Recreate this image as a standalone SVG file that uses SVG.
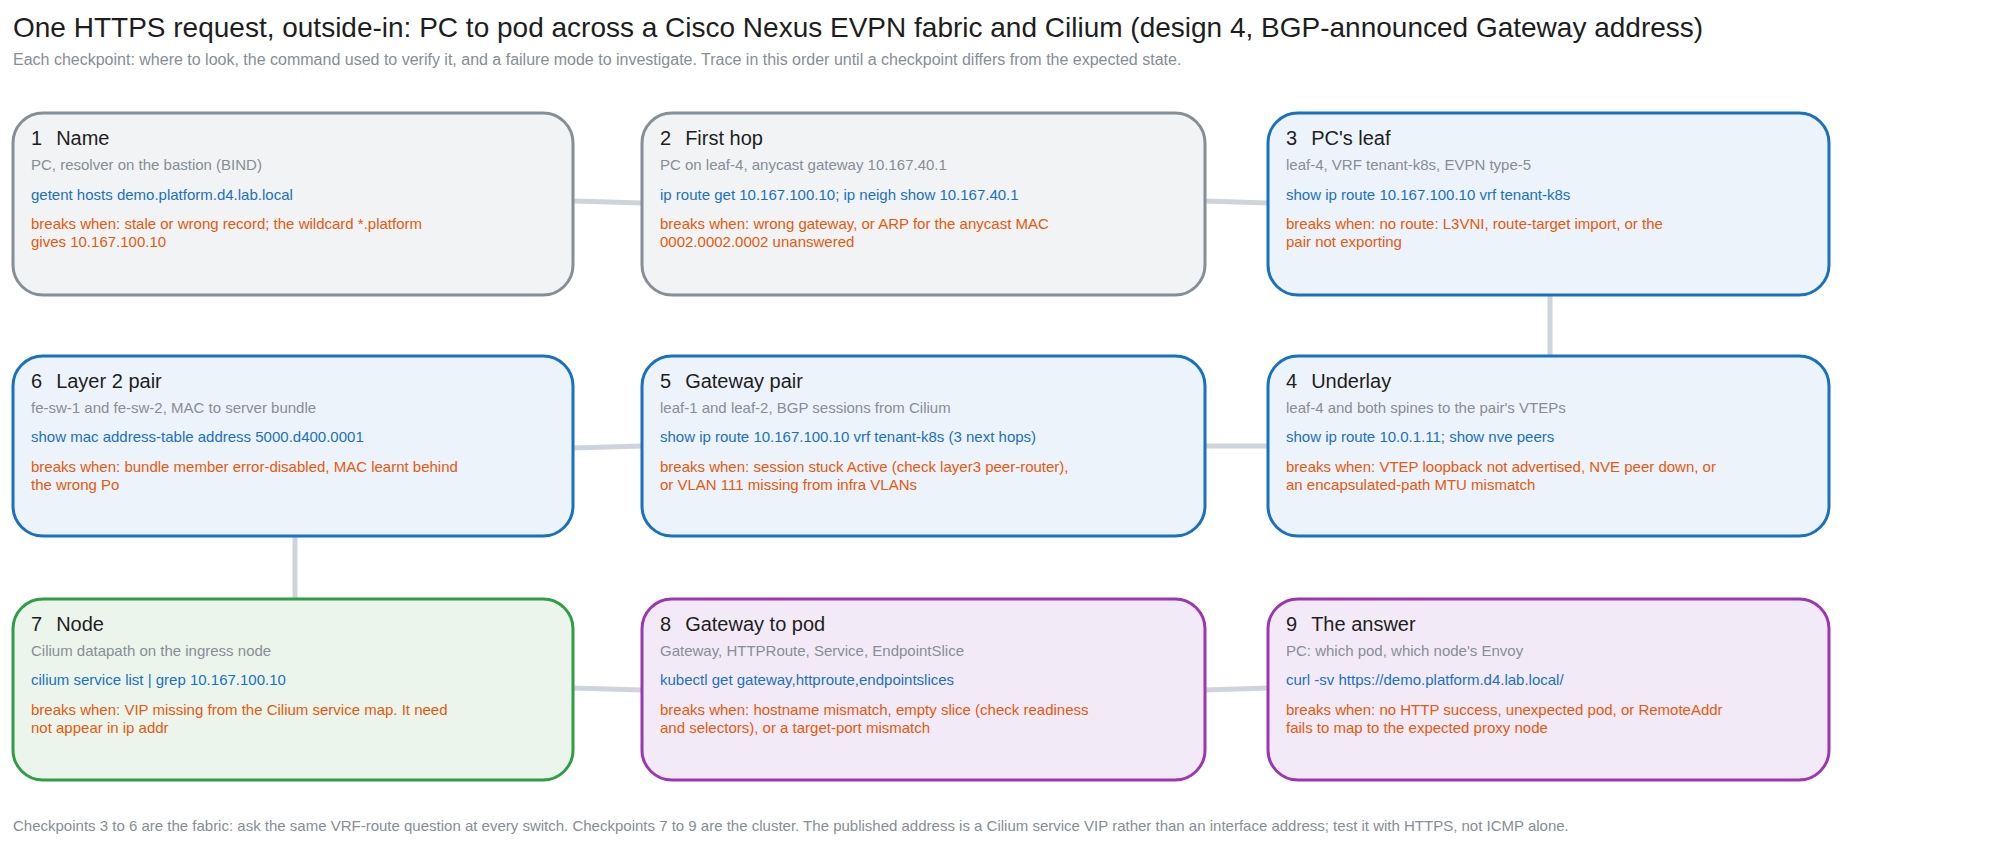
<svg xmlns="http://www.w3.org/2000/svg" width="2000" height="844" viewBox="0 0 2000 844">
<style>
text{font-family:"Liberation Sans",Arial,sans-serif}
.t{font-size:28px;fill:#1e1e1e}
.s{font-size:16px;fill:#868e96}
.h{font-size:20px;fill:#1e1e1e}
.d{font-size:15px;fill:#868e96}
.c{font-size:15px;fill:#1971c2}
.b{font-size:15px;fill:#e8590c}
.gray{fill:#f1f3f5;stroke:#868e96;stroke-width:3}
.blue{fill:#edf3fb;stroke:#1971c2;stroke-width:3}
.green{fill:#ebf5ec;stroke:#2f9e44;stroke-width:3}
.purple{fill:#f3eaf7;stroke:#9c36b5;stroke-width:3}
.con line{stroke:#ced4da;stroke-width:5}
</style>
<rect width="2000" height="844" fill="#fff"/>
<text class="t" x="13" y="37">One HTTPS request, outside-in: PC to pod across a Cisco Nexus EVPN fabric and Cilium (design 4, BGP-announced Gateway address)</text>
<text class="s" x="13" y="65">Each checkpoint: where to look, the command used to verify it, and a failure mode to investigate. Trace in this order until a checkpoint differs from the expected state.</text>
<g class="con">
<line x1="573" y1="201" x2="642" y2="203"/>
<line x1="1205" y1="201" x2="1268" y2="203"/>
<line x1="1550" y1="295" x2="1550" y2="356"/>
<line x1="1205" y1="446" x2="1268" y2="446"/>
<line x1="573" y1="448" x2="642" y2="446"/>
<line x1="295" y1="536" x2="295" y2="599"/>
<line x1="573" y1="688" x2="642" y2="690"/>
<line x1="1205" y1="690" x2="1268" y2="688"/>
</g>
<g id="n1"><rect class="gray" x="13" y="113" width="560" height="182" rx="30"/>
<text class="h" x="31" y="145">1<tspan dx="14">Name</tspan></text>
<text class="d" x="31" y="170">PC, resolver on the bastion (BIND)</text>
<text class="c" x="31" y="200">getent hosts demo.platform.d4.lab.local</text>
<text class="b" x="31" y="229">breaks when: stale or wrong record; the wildcard *.platform</text>
<text class="b" x="31" y="247">gives 10.167.100.10</text></g>
<g id="n2"><rect class="gray" x="642" y="113" width="563" height="182" rx="30"/>
<text class="h" x="660" y="145">2<tspan dx="14">First hop</tspan></text>
<text class="d" x="660" y="170">PC on leaf-4, anycast gateway 10.167.40.1</text>
<text class="c" x="660" y="200">ip route get 10.167.100.10; ip neigh show 10.167.40.1</text>
<text class="b" x="660" y="229">breaks when: wrong gateway, or ARP for the anycast MAC</text>
<text class="b" x="660" y="247">0002.0002.0002 unanswered</text></g>
<g id="n3"><rect class="blue" x="1268" y="113" width="561" height="182" rx="30"/>
<text class="h" x="1286" y="145">3<tspan dx="14">PC's leaf</tspan></text>
<text class="d" x="1286" y="170">leaf-4, VRF tenant-k8s, EVPN type-5</text>
<text class="c" x="1286" y="200">show ip route 10.167.100.10 vrf tenant-k8s</text>
<text class="b" x="1286" y="229">breaks when: no route: L3VNI, route-target import, or the</text>
<text class="b" x="1286" y="247">pair not exporting</text></g>
<g id="n6"><rect class="blue" x="13" y="356" width="560" height="180" rx="30"/>
<text class="h" x="31" y="388">6<tspan dx="14">Layer 2 pair</tspan></text>
<text class="d" x="31" y="413">fe-sw-1 and fe-sw-2, MAC to server bundle</text>
<text class="c" x="31" y="442">show mac address-table address 5000.d400.0001</text>
<text class="b" x="31" y="472">breaks when: bundle member error-disabled, MAC learnt behind</text>
<text class="b" x="31" y="490">the wrong Po</text></g>
<g id="n5"><rect class="blue" x="642" y="356" width="563" height="180" rx="30"/>
<text class="h" x="660" y="388">5<tspan dx="14">Gateway pair</tspan></text>
<text class="d" x="660" y="413">leaf-1 and leaf-2, BGP sessions from Cilium</text>
<text class="c" x="660" y="442">show ip route 10.167.100.10 vrf tenant-k8s (3 next hops)</text>
<text class="b" x="660" y="472">breaks when: session stuck Active (check layer3 peer-router),</text>
<text class="b" x="660" y="490">or VLAN 111 missing from infra VLANs</text></g>
<g id="n4"><rect class="blue" x="1268" y="356" width="561" height="180" rx="30"/>
<text class="h" x="1286" y="388">4<tspan dx="14">Underlay</tspan></text>
<text class="d" x="1286" y="413">leaf-4 and both spines to the pair's VTEPs</text>
<text class="c" x="1286" y="442">show ip route 10.0.1.11; show nve peers</text>
<text class="b" x="1286" y="472">breaks when: VTEP loopback not advertised, NVE peer down, or</text>
<text class="b" x="1286" y="490">an encapsulated-path MTU mismatch</text></g>
<g id="n7"><rect class="green" x="13" y="599" width="560" height="181" rx="30"/>
<text class="h" x="31" y="631">7<tspan dx="14">Node</tspan></text>
<text class="d" x="31" y="656">Cilium datapath on the ingress node</text>
<text class="c" x="31" y="685">cilium service list | grep 10.167.100.10</text>
<text class="b" x="31" y="715">breaks when: VIP missing from the Cilium service map. It need</text>
<text class="b" x="31" y="733">not appear in ip addr</text></g>
<g id="n8"><rect class="purple" x="642" y="599" width="563" height="181" rx="30"/>
<text class="h" x="660" y="631">8<tspan dx="14">Gateway to pod</tspan></text>
<text class="d" x="660" y="656">Gateway, HTTPRoute, Service, EndpointSlice</text>
<text class="c" x="660" y="685">kubectl get gateway,httproute,endpointslices</text>
<text class="b" x="660" y="715">breaks when: hostname mismatch, empty slice (check readiness</text>
<text class="b" x="660" y="733">and selectors), or a target-port mismatch</text></g>
<g id="n9"><rect class="purple" x="1268" y="599" width="561" height="181" rx="30"/>
<text class="h" x="1286" y="631">9<tspan dx="14">The answer</tspan></text>
<text class="d" x="1286" y="656">PC: which pod, which node's Envoy</text>
<text class="c" x="1286" y="685">curl -sv https://demo.platform.d4.lab.local/</text>
<text class="b" x="1286" y="715">breaks when: no HTTP success, unexpected pod, or RemoteAddr</text>
<text class="b" x="1286" y="733">fails to map to the expected proxy node</text></g>
<text class="s" x="13" y="831" style="font-size:15px">Checkpoints 3 to 6 are the fabric: ask the same VRF-route question at every switch. Checkpoints 7 to 9 are the cluster. The published address is a Cilium service VIP rather than an interface address; test it with HTTPS, not ICMP alone.</text>
</svg>
